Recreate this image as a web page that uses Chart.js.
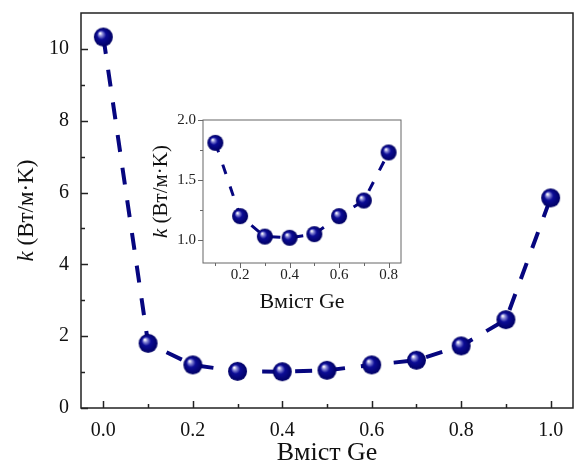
<!DOCTYPE html>
<html>
<head>
<meta charset="utf-8">
<script src="https://cdn.jsdelivr.net/npm/chart.js@4.4.1/dist/chart.umd.min.js"></script>
<style>
  html, body { margin: 0; padding: 0; background: #fff; }
  #wrap { position: relative; width: 574px; height: 471px; overflow: hidden; }
  #main { position: absolute; left: 0; top: 0; }
  #inset { position: absolute; left: 150px; top: 100px; }
</style>
</head>
<body>
<div id="wrap">
  <canvas id="main" width="574" height="471"></canvas>
  <canvas id="inset" width="265" height="215"></canvas>
</div>
<script>
// main data
const geContent = [0.0, 0.1, 0.2, 0.3, 0.4, 0.5, 0.6, 0.7, 0.8, 0.9, 1.0];
const kValues = [10.33, 1.8, 1.2, 1.02, 1.01, 1.05, 1.2, 1.33, 1.73, 2.46, 5.85];
const xTicksMain = [0.0, 0.2, 0.4, 0.6, 0.8, 1.0];
const xMinorMain = [0.1, 0.3, 0.5, 0.7, 0.9];
const yTicksMain = [0, 2, 4, 6, 8, 10];
const yMinorMain = [1, 3, 5, 7, 9];

// inset data
const geInset = [0.1, 0.2, 0.3, 0.4, 0.5, 0.6, 0.7, 0.8];
const kInset = [1.81, 1.2, 1.03, 1.02, 1.05, 1.2, 1.33, 1.73];
const xTicksInset = [0.2, 0.4, 0.6, 0.8];
const xMinorInset = [0.1, 0.3, 0.5, 0.7];
const yTicksInset = [1.0, 1.5, 2.0];
const yMinorInset = [1.25, 1.75];

const NAVY = '#06067f';
const SERIF = '"Liberation Serif", "Times New Roman", serif';

function makeSphere(r) {
  const c = document.createElement('canvas');
  c.width = c.height = Math.ceil(r * 2 + 2);
  const ctx = c.getContext('2d');
  const cx = c.width / 2, cy = c.height / 2;
  const g = ctx.createRadialGradient(cx - r * 0.35, cy - r * 0.4, r * 0.05, cx, cy, r);
  g.addColorStop(0, '#ffffff');
  g.addColorStop(0.18, '#8c8cd8');
  g.addColorStop(0.45, '#0c0c96');
  g.addColorStop(1, '#000062');
  ctx.fillStyle = g;
  ctx.beginPath();
  ctx.arc(cx, cy, r, 0, Math.PI * 2);
  ctx.fill();
  return c;
}

function toPoints(xs, ys) {
  return xs.map((x, i) => ({ x: x, y: ys[i] }));
}

// keep the plot frame where the reference has it: no extra room for overflowing labels
function noPad(s) {
  s.paddingLeft = 0; s.paddingRight = 0; s.paddingTop = 0; s.paddingBottom = 0;
}

// frame + ticks drawn from the scales
function framePlugin(opts) {
  return {
    id: 'frame',
    afterDraw(chart) {
      const { ctx, chartArea: a, scales: { x, y } } = chart;
      ctx.save();
      ctx.strokeStyle = opts.color;
      ctx.lineWidth = opts.width;
      ctx.strokeRect(a.left, a.top, a.right - a.left, a.bottom - a.top);
      const dir = opts.inward ? 1 : -1;
      const tick = (vals, len) => {
        vals.x.forEach(v => {
          const px = Math.round(x.getPixelForValue(v)) + 0.5;
          ctx.beginPath();
          ctx.moveTo(px, a.bottom);
          ctx.lineTo(px, a.bottom - dir * len);
          ctx.stroke();
        });
        vals.y.forEach(v => {
          const py = Math.round(y.getPixelForValue(v)) + 0.5;
          ctx.beginPath();
          ctx.moveTo(a.left, py);
          ctx.lineTo(a.left + dir * len, py);
          ctx.stroke();
        });
      };
      tick(opts.major, opts.majorLen);
      tick(opts.minor, opts.minorLen);
      ctx.restore();
    }
  };
}

function yTitlePlugin(cx, size) {
  return {
    id: 'ytitle',
    afterDraw(chart) {
      const { ctx, chartArea: a } = chart;
      const cy = (a.top + a.bottom) / 2;
      const italic = 'italic ' + size + 'px ' + SERIF;
      const normal = size + 'px ' + SERIF;
      const rest = ' (Вт/м·K)';
      ctx.save();
      ctx.font = italic;
      const w1 = ctx.measureText('k').width;
      ctx.font = normal;
      const w2 = ctx.measureText(rest).width;
      ctx.translate(cx, cy);
      ctx.rotate(-Math.PI / 2);
      ctx.fillStyle = '#111';
      ctx.textBaseline = 'middle';
      ctx.textAlign = 'left';
      const start = -(w1 + w2) / 2;
      ctx.font = italic;
      ctx.fillText('k', start, 0);
      ctx.font = normal;
      ctx.fillText(rest, start + w1, 0);
      ctx.restore();
    }
  };
}

new Chart(document.getElementById('main'), {
  type: 'line',
  data: {
    datasets: [{
      data: toPoints(geContent, kValues),
      borderColor: NAVY,
      borderWidth: 4,
      borderDash: [17, 16],
      pointStyle: makeSphere(9.5),
      pointRadius: 10,
      tension: 0
    }]
  },
  options: {
    responsive: false,
    animation: false,
    events: [],
    layout: { autoPadding: false, padding: { top: 13, right: 1, left: 0, bottom: 0 } },
    plugins: { legend: { display: false }, tooltip: { enabled: false } },
    scales: {
      x: {
        type: 'linear', min: -0.05, max: 1.05,
        grid: { display: false, drawTicks: false }, border: { display: false },
        afterBuildTicks: s => { s.ticks = xTicksMain.map(v => ({ value: v })); },
        afterFit: s => { s.height = 63; noPad(s); },
        ticks: { padding: 11, color: '#111', font: { family: SERIF, size: 20 }, callback: v => v.toFixed(1) },
        title: { display: true, text: 'Вміст Ge', color: '#111', font: { family: SERIF, size: 26 }, padding: { top: 0, bottom: 2 } }
      },
      y: {
        type: 'linear', min: 0, max: 11,
        grid: { display: false, drawTicks: false }, border: { display: false },
        afterBuildTicks: s => { s.ticks = yTicksMain.map(v => ({ value: v })); },
        afterFit: s => { s.width = 81; noPad(s); },
        ticks: { padding: 12, color: '#111', font: { family: SERIF, size: 20 } }
      }
    }
  },
  plugins: [
    framePlugin({ color: '#222', width: 1.5, inward: true, majorLen: 7, minorLen: 4,
      major: { x: xTicksMain, y: yTicksMain }, minor: { x: xMinorMain, y: yMinorMain } }),
    yTitlePlugin(27, 23)
  ]
});

new Chart(document.getElementById('inset'), {
  type: 'line',
  data: {
    datasets: [{
      data: toPoints(geInset, kInset),
      borderColor: NAVY,
      borderWidth: 3,
      borderDash: [10, 13],
      pointStyle: makeSphere(8),
      pointRadius: 8,
      tension: 0
    }]
  },
  options: {
    responsive: false,
    animation: false,
    events: [],
    layout: { autoPadding: false, padding: { top: 20, right: 14, left: 0, bottom: 0 } },
    plugins: { legend: { display: false }, tooltip: { enabled: false } },
    scales: {
      x: {
        type: 'linear', min: 0.05, max: 0.85,
        grid: { display: false, drawTicks: false }, border: { display: false },
        afterBuildTicks: s => { s.ticks = xTicksInset.map(v => ({ value: v })); },
        afterFit: s => { s.height = 52; noPad(s); },
        ticks: { padding: 3, color: '#222', font: { family: SERIF, size: 15 }, callback: v => v.toFixed(1) },
        title: { display: true, text: 'Вміст Ge', color: '#111', font: { family: SERIF, size: 22 }, padding: { top: 0, bottom: 0 } }
      },
      y: {
        type: 'linear', min: 0.81, max: 2.0,
        grid: { display: false, drawTicks: false }, border: { display: false },
        afterBuildTicks: s => { s.ticks = yTicksInset.map(v => ({ value: v })); },
        afterFit: s => { s.width = 53; noPad(s); },
        ticks: { padding: 7, color: '#222', font: { family: SERIF, size: 15 }, callback: v => v.toFixed(1) }
      }
    }
  },
  plugins: [
    framePlugin({ color: '#666', width: 1, inward: false, majorLen: 5, minorLen: 3,
      major: { x: xTicksInset, y: yTicksInset }, minor: { x: xMinorInset, y: yMinorInset } }),
    yTitlePlugin(11, 21)
  ]
});
</script>
</body>
</html>
